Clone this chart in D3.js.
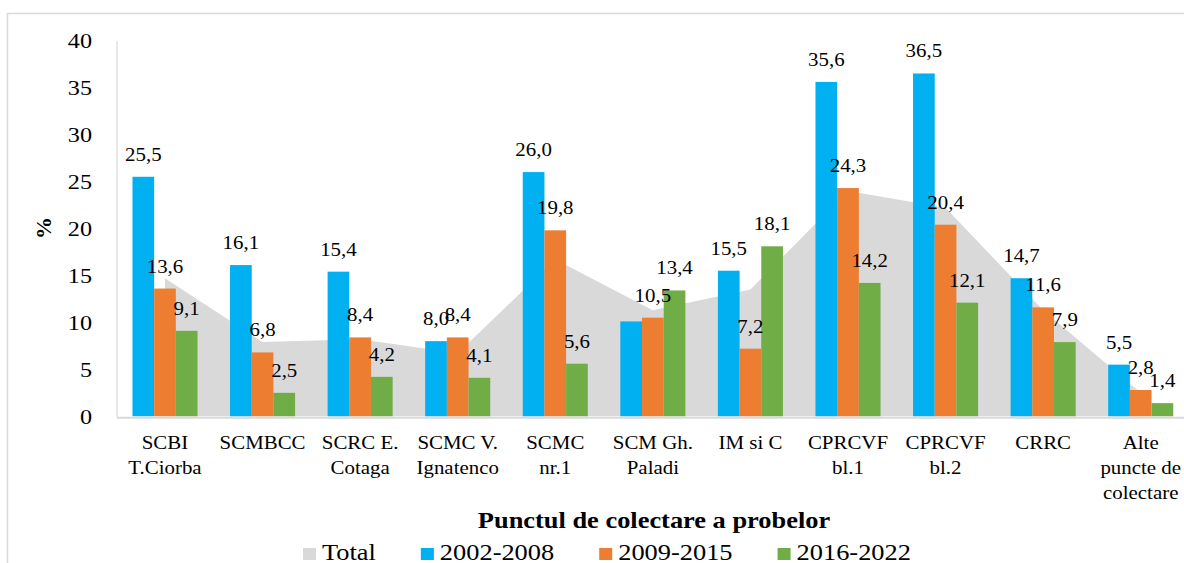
<!DOCTYPE html>
<html>
<head>
<meta charset="utf-8">
<script src="https://cdn.jsdelivr.net/npm/d3@7"></script>
<style>
  html, body { margin: 0; padding: 0; background: #fff; }
  svg, svg text { font-family: "Times New Roman", "Liberation Serif", Tinos, serif; }
  svg { display: block; }
</style>
</head>
<body>
<svg id="chart" width="1184" height="563"></svg>
<script>
// ---- data ----
const categories = ["SCBI T.Ciorba", "SCMBCC", "SCRC E. Cotaga", "SCMC V. Ignatenco", "SCMC nr.1",
  "SCM Gh. Paladi", "IM si C", "CPRCVF bl.1", "CPRCVF bl.2", "CRRC", "Alte puncte de colectare"];
const categoryLines = [["SCBI", "T.Ciorba"], ["SCMBCC"], ["SCRC E.", "Cotaga"], ["SCMC V.", "Ignatenco"],
  ["SCMC", "nr.1"], ["SCM Gh.", "Paladi"], ["IM si C"], ["CPRCVF", "bl.1"], ["CPRCVF", "bl.2"],
  ["CRRC"], ["Alte", "puncte de", "colectare"]];
const seriesNames = ["2002-2008", "2009-2015", "2016-2022"];
const values2002_2008 = [25.5, 16.1, 15.4, 8.0, 26.0, 10.1, 15.5, 35.6, 36.5, 14.7, 5.5];
const values2009_2015 = [13.6, 6.8, 8.4, 8.4, 19.8, 10.5, 7.2, 24.3, 20.4, 11.6, 2.8];
const values2016_2022 = [9.1, 2.5, 4.2, 4.1, 5.6, 13.4, 18.1, 14.2, 12.1, 7.9, 1.4];
const totalValues = [14.7, 7.9, 8.2, 6.7, 16.7, 11.3, 13.5, 24.0, 22.2, 11.3, 2.5];
// labels not shown in the original (series index, category index)
const hiddenLabels = [[0, 5]];
const yTicks = [0, 5, 10, 15, 20, 25, 30, 35, 40];
const xTitle = "Punctul de colectare a probelor";
const yTitle = "%";
const legendNames = ["Total", "2002-2008", "2009-2015", "2016-2022"];

const colors = ["#00b0f0", "#ed7d31", "#70ad47"];
const totalColor = "#d9d9d9";
const SX = 1.1; // horizontal stretch of text in the original image
const FONT = '"Times New Roman", "Liberation Serif", Tinos, serif';

const svg = d3.select("#chart");

// outer frame
svg.append("rect").attr("x", 7.5).attr("y", 13.5).attr("width", 1300).attr("height", 700)
  .attr("fill", "none").attr("stroke", "#d9d9d9").attr("stroke-width", 1.5);

const x0 = d3.scaleBand().domain(categories).range([116.2, 1189.5])
  .paddingInner(1 / 3).paddingOuter(1 / 6);
const x1 = d3.scaleBand().domain(seriesNames).range([0, x0.bandwidth()]);
const y = d3.scaleLinear().domain([0, 40]).range([416.3, 40.6]);

const series = [values2002_2008, values2009_2015, values2016_2022];

function stext(parent, x, yy, str, size, opts = {}) {
  const g = parent.append("g").attr("transform", `translate(${x},${yy}) scale(${SX},1)`);
  const t = g.append("text").text(str).attr("font-size", size).attr("font-family", FONT)
    .attr("text-anchor", opts.anchor || "middle").attr("fill", "#000");
  if (opts.bold) t.attr("font-weight", "bold");
  return t;
}

// total area
const cx = c => x0(c) + x0.bandwidth() / 2;
const area = d3.area().x((d, i) => cx(categories[i])).y0(y(0)).y1(d => y(d));
svg.append("path").datum(totalValues).attr("d", area).attr("fill", totalColor);

// y axis
const yAxis = svg.append("g").attr("transform", "translate(116.5,0)")
  .call(d3.axisLeft(y).tickValues(yTicks).tickSize(0).tickFormat(""));
yAxis.select(".domain").attr("stroke", "#d9d9d9").attr("stroke-width", 1.2);
yTicks.forEach(v => stext(svg, 92, y(v) + 7.5, String(v), 22, { anchor: "end" }));

// bars
seriesNames.forEach((s, si) => {
  svg.append("g").selectAll("rect").data(series[si]).join("rect")
    .attr("x", (d, i) => x0(categories[i]) + x1(s))
    .attr("y", d => y(d))
    .attr("width", x1.bandwidth())
    .attr("height", d => y(0) - y(d))
    .attr("fill", colors[si]);
});

// x axis baseline
const xAxis = svg.append("g").attr("transform", `translate(0,${y(0) + 1})`)
  .call(d3.axisBottom(x0).tickSize(0).tickSizeOuter(0).tickFormat(""));
xAxis.select(".domain").attr("stroke", "#d9d9d9").attr("stroke-width", 2);

// value labels
const fmt = v => v.toFixed(1).replace(".", ",");
seriesNames.forEach((s, si) => {
  series[si].forEach((v, i) => {
    if (hiddenLabels.some(h => h[0] === si && h[1] === i)) return;
    stext(svg, x0(categories[i]) + x1(s) + x1.bandwidth() / 2, y(v) - 16, fmt(v), 19);
  });
});

// category labels
categoryLines.forEach((lines, i) => {
  lines.forEach((ln, li) => stext(svg, cx(categories[i]), 449 + li * 25, ln, 19));
});

// axis titles
stext(svg, 654, 527.5, xTitle, 24, { bold: true });
svg.append("text").attr("transform", "translate(51,228) rotate(-90)").attr("font-family", FONT)
  .attr("text-anchor", "middle").attr("font-size", 22).attr("font-weight", "bold").text(yTitle);

// legend
let lx = 303;
const legendColors = [totalColor].concat(colors);
legendNames.forEach((name, i) => {
  svg.append("rect").attr("x", lx).attr("y", 548).attr("width", 13).attr("height", 12)
    .attr("fill", legendColors[i]);
  const t = stext(svg, lx + 19, 560, name, 24, { anchor: "start" });
  const w = t.node().getComputedTextLength() * SX;
  lx += 19 + w + 45;
});
</script>
</body>
</html>
